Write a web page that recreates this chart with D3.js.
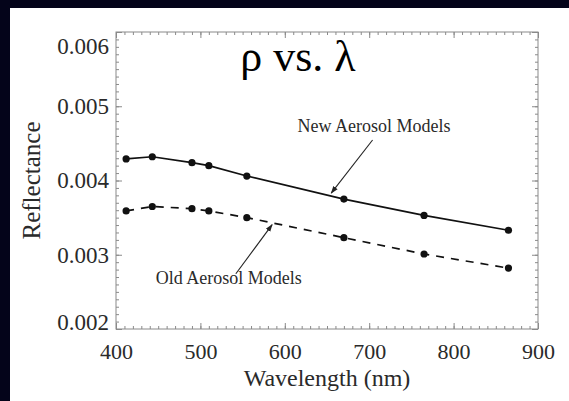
<!DOCTYPE html>
<html>
<head>
<meta charset="utf-8">
<script src="https://cdn.jsdelivr.net/npm/d3@7"></script>
<style>
  html, body { margin: 0; padding: 0; background: #04041a; }
  svg { display: block; }
  svg text { font-family: "Liberation Serif", "DejaVu Serif", serif; }
</style>
</head>
<body>
<svg id="chart" width="569" height="401"></svg>
<script>
// Band centre wavelengths (nm) and modelled reflectance for each aerosol model set
const wavelengths = [412, 443, 490, 510, 555, 670, 765, 865];
const newModels   = [0.00429, 0.00432, 0.00424, 0.00420, 0.00406, 0.00375, 0.00353, 0.00333];
const oldModels   = [0.00359, 0.00365, 0.00362, 0.00359, 0.00350, 0.00323, 0.00301, 0.00282];

// Axis ticks
const xTicks = [400, 500, 600, 700, 800, 900];
const yTicks = [0.002, 0.003, 0.004, 0.005, 0.006];
const yTickLabels = ["0.002", "0.003", "0.004", "0.005", "0.006"];

// Annotations: text anchor and arrow (from label towards curve), in data units
const annotations = [
  { text: "New Aerosol Models", x: 615, y: 0.004653, from: [704, 0.004545], to: [655, 0.003830] },
  { text: "Old Aerosol Models", x: 447, y: 0.002606, from: [542, 0.002744], to: [585, 0.003405] }
];

const svg = d3.select("#chart");
const W = 569, H = 401;
const plot = { left: 116, right: 538, top: 32, bottom: 329 };

// page background and white panel
svg.append("rect").attr("width", W).attr("height", H).attr("fill", "#04041a");
svg.append("rect").attr("x", 10).attr("y", 8).attr("width", W - 10).attr("height", H - 8).attr("fill", "#ffffff");

const x = d3.scaleLinear().domain([400, 900]).range([plot.left, plot.right]);
const y = d3.scaleLinear().domain([0.002, 0.006]).range([plot.bottom, plot.top]);

const serif = "Liberation Serif, DejaVu Serif, serif";
const axisColor = "#8a8a8a";

function styleAxis(g) {
  g.attr("font-family", null);
  g.select(".domain").remove();
  g.selectAll(".tick line").attr("stroke", axisColor).attr("stroke-width", 1);
}

// minor ticks (every 10 nm / 0.0001) on all four sides, pointing inward
const xMinor = d3.range(400, 901, 10);
const yMinor = d3.range(20, 61, 1).map(v => v / 10000);

svg.append("g").attr("transform", `translate(0,${plot.bottom})`)
  .call(d3.axisBottom(x).tickValues(xMinor).tickSize(-3).tickFormat(""))
  .call(styleAxis);
svg.append("g").attr("transform", `translate(0,${plot.top})`)
  .call(d3.axisTop(x).tickValues(xMinor).tickSize(-3).tickFormat(""))
  .call(styleAxis);
svg.append("g").attr("transform", `translate(${plot.left},0)`)
  .call(d3.axisLeft(y).tickValues(yMinor).tickSize(-3).tickFormat(""))
  .call(styleAxis);
svg.append("g").attr("transform", `translate(${plot.right},0)`)
  .call(d3.axisRight(y).tickValues(yMinor).tickSize(-3).tickFormat(""))
  .call(styleAxis);

// major ticks with labels
const xAxis = svg.append("g").attr("transform", `translate(0,${plot.bottom})`)
  .call(d3.axisBottom(x).tickValues(xTicks).tickSize(-6).tickPadding(14).tickFormat(d3.format("d")))
  .call(styleAxis);
xAxis.selectAll(".tick text")
  .style("font-family", serif).style("font-size", "22px").attr("fill", "#2a2a2a");

svg.append("g").attr("transform", `translate(0,${plot.top})`)
  .call(d3.axisTop(x).tickValues(xTicks).tickSize(-6).tickFormat(""))
  .call(styleAxis);

const yAxis = svg.append("g").attr("transform", `translate(${plot.left},0)`)
  .call(d3.axisLeft(y).tickValues(yTicks).tickSize(-6).tickPadding(7)
    .tickFormat((d, i) => yTickLabels[i]))
  .call(styleAxis);
yAxis.selectAll(".tick text")
  .style("font-family", serif).style("font-size", "23px").attr("fill", "#2a2a2a")
  .attr("dy", d => d === 0.006 ? "0.95em" : d === 0.002 ? "0.02em" : "0.32em");

svg.append("g").attr("transform", `translate(${plot.right},0)`)
  .call(d3.axisRight(y).tickValues(yTicks).tickSize(-6).tickFormat(""))
  .call(styleAxis);

// frame
svg.append("rect")
  .attr("x", plot.left).attr("y", plot.top)
  .attr("width", plot.right - plot.left).attr("height", plot.bottom - plot.top)
  .attr("fill", "none").attr("stroke", axisColor).attr("stroke-width", 1);

// axis titles
svg.append("text")
  .attr("x", (plot.left + plot.right) / 2).attr("y", 386)
  .attr("text-anchor", "middle")
  .style("font-family", serif).style("font-size", "24px").attr("fill", "#2a2a2a")
  .text("Wavelength (nm)");

svg.append("text")
  .attr("transform", `translate(40,${(plot.top + plot.bottom) / 2}) rotate(-90)`)
  .attr("text-anchor", "middle")
  .style("font-family", serif).style("font-size", "25px").attr("fill", "#2a2a2a")
  .text("Reflectance");

// title
svg.append("text")
  .attr("x", 298).attr("y", 71)
  .attr("text-anchor", "middle")
  .style("font-family", serif).style("font-size", "44px").attr("fill", "#000")
  .text("ρ vs. λ");

// series
const newData = wavelengths.map((w, i) => [w, newModels[i]]);
const oldData = wavelengths.map((w, i) => [w, oldModels[i]]);
const line = d3.line().x(d => x(d[0])).y(d => y(d[1]));

svg.append("path").datum(newData)
  .attr("d", line).attr("fill", "none").attr("stroke", "#111").attr("stroke-width", 1.7);
svg.append("path").datum(oldData)
  .attr("d", line).attr("fill", "none").attr("stroke", "#111").attr("stroke-width", 1.7)
  .attr("stroke-dasharray", "8,7");

[newData, oldData].forEach(data => {
  svg.append("g").selectAll("circle").data(data).join("circle")
    .attr("cx", d => x(d[0])).attr("cy", d => y(d[1])).attr("r", 3.6)
    .attr("fill", "#111");
});

// annotation arrows and labels
const defs = svg.append("defs");
defs.append("marker").attr("id", "head")
  .attr("viewBox", "0 0 10 10").attr("refX", 9).attr("refY", 5)
  .attr("markerWidth", 7).attr("markerHeight", 7).attr("orient", "auto")
  .append("path").attr("d", "M0,1.5 L10,5 L0,8.5 Z").attr("fill", "#222");

annotations.forEach(a => {
  svg.append("line")
    .attr("x1", x(a.from[0])).attr("y1", y(a.from[1]))
    .attr("x2", x(a.to[0])).attr("y2", y(a.to[1]))
    .attr("stroke", "#222").attr("stroke-width", 1.1)
    .attr("marker-end", "url(#head)");
  svg.append("text")
    .attr("x", x(a.x)).attr("y", y(a.y))
    .style("font-family", serif).style("font-size", "18px").attr("fill", "#2a2a2a")
    .text(a.text);
});
</script>
</body>
</html>
